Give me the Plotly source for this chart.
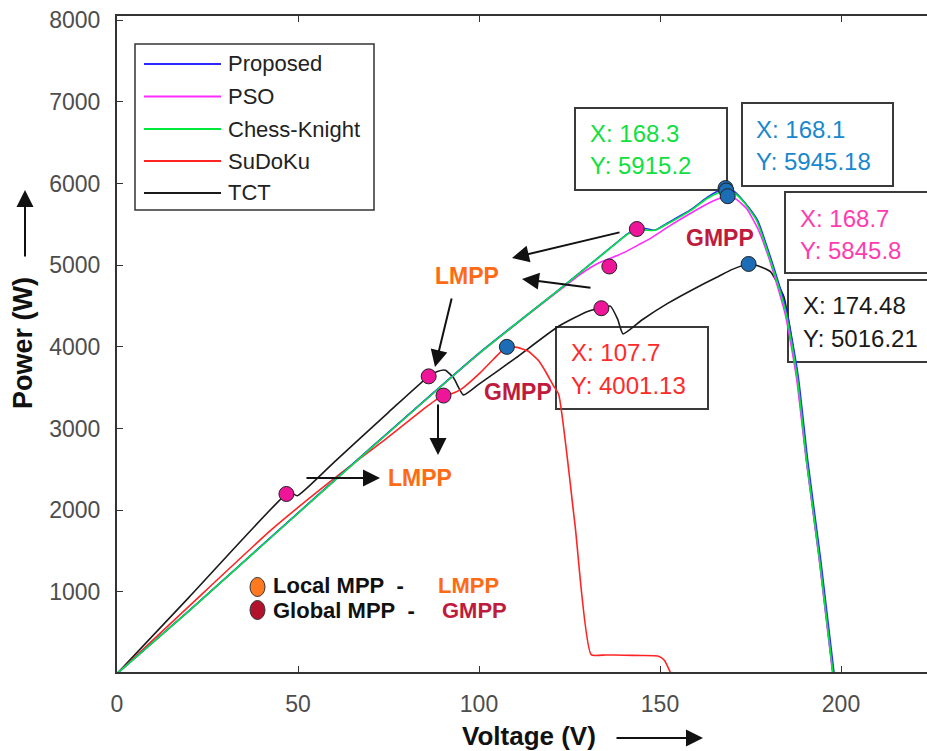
import plotly.graph_objects as go

# ---------------- data ----------------
# P-V characteristics (V in volts, P in watts)
tct_v = [0, 20, 46.8, 48.3, 49.8, 60, 75, 86.1, 88.5, 90.7, 93, 95.7, 100, 110, 121.9, 130, 133.8,
         136.3, 138.3, 139.8, 145, 152, 160.4, 166, 170, 174.48, 177, 180.5, 184.2, 186.1, 187.9,
         190.5, 194.1, 197.8]
tct_p = [0, 940, 2200, 2212, 2178, 2590, 3200, 3640, 3700, 3716, 3620, 3413, 3545, 3860, 4250, 4435,
         4474, 4500, 4340, 4160, 4330, 4530, 4735, 4860, 4950, 5016.21, 4995, 4922, 4616, 4171, 3635,
         2610, 1390, 0]

sdk_v = [0, 20, 42.6, 60, 75, 85, 88.5, 90.2, 92, 95, 100, 104, 107.7, 110.5, 113.5, 116.5, 118.5,
         120.5, 122, 126.5, 131, 135, 140, 145, 149.4, 151.2, 153]
sdk_p = [0, 830, 1760, 2390, 2900, 3250, 3365, 3405, 3420, 3480, 3670, 3850, 4001.13, 3995, 3950,
         3830, 3690, 3530, 3420, 1830, 232, 229, 226, 222, 215, 165, 0]

pso_v = [0, 20, 45, 70, 100, 118, 123, 128, 132.9, 136.5, 140.3, 144, 147.5, 153, 158, 163, 166.5,
         168.7, 171, 174, 177, 180.3, 184.6, 187.7, 190.4, 194.0, 197.7]
pso_p = [0, 772, 1765, 2755, 3915, 4548, 4720, 4890, 5025, 5090, 5161, 5250, 5332, 5492, 5625, 5750,
         5820, 5845.8, 5810, 5690, 5450, 5060, 4400, 3625, 2610, 1390, 0]

prop_v = [0, 20, 45, 70, 100, 122, 136.5, 141, 143.6, 146, 148.6, 152, 158.5, 163, 166, 168.1, 170.5,
          173, 176.9, 180.5, 185.1, 188.2, 190.8, 194.4, 198.1]
prop_p = [0, 775, 1770, 2760, 3925, 4700, 5222, 5385, 5444, 5450, 5430, 5515, 5680, 5830, 5910,
          5945.18, 5905, 5790, 5555, 5100, 4415, 3635, 2610, 1390, 0]

ck_v = [0, 20, 45, 70, 100, 122, 136.5, 141, 143.6, 146, 148.6, 152, 158.5, 163, 166, 168.3, 170.5,
        173, 176.6, 180.2, 184.8, 187.9, 190.5, 194.1, 197.8]
ck_p = [0, 772, 1765, 2755, 3920, 4695, 5218, 5378, 5432, 5430, 5428, 5505, 5672, 5818, 5885,
        5915.2, 5885, 5780, 5555, 5100, 4415, 3635, 2610, 1390, 0]

series_names = ["Proposed", "PSO", "Chess-Knight", "SuDoKu", "TCT"]

# local maxima (LMPP) and global maxima (GMPP)
lmpp_v = [46.8, 86.1, 133.8, 90.2, 136.0, 143.6]
lmpp_p = [2200, 3640, 4474, 3405, 4985, 5444]
gmpp_v = [107.7, 168.1, 168.3, 168.7, 174.48]
gmpp_p = [4001.13, 5945.18, 5915.2, 5845.8, 5016.21]

x_ticks = [0, 50, 100, 150, 200]
y_ticks = [1000, 2000, 3000, 4000, 5000, 6000, 7000, 8000]

# ---------------- layout helpers ----------------
W, H = 927, 751
ML, MR, MT, MB = 117, 0, 16, 79
PW, PH = W - ML - MR, H - MT - MB
FONT = "Liberation Sans, Arial, Helvetica, sans-serif"


def pxx(x):
    return (x - ML) / PW


def pxy(y):
    return (H - MB - y) / PH


COL = {
    "Proposed": "#2a2aff",
    "PSO": "#ff2bff",
    "Chess-Knight": "#00e83c",
    "SuDoKu": "#ff2424",
    "TCT": "#1a1a1a",
}

fig = go.Figure()

curves = [
    ("TCT", tct_v, tct_p),
    ("SuDoKu", sdk_v, sdk_p),
    ("PSO", pso_v, pso_p),
    ("Proposed", prop_v, prop_p),
    ("Chess-Knight", ck_v, ck_p),
]
for name, v, p in curves:
    fig.add_trace(go.Scatter(
        x=v, y=p, mode="lines", name=name, showlegend=False,
        line=dict(color=COL[name], width=1.6, shape="spline", smoothing=0.5),
    ))

fig.add_trace(go.Scatter(
    x=lmpp_v, y=lmpp_p, mode="markers", showlegend=False,
    marker=dict(size=15, color="#ee1599", line=dict(color="#222", width=1)),
))
fig.add_trace(go.Scatter(
    x=gmpp_v, y=gmpp_p, mode="markers", showlegend=False,
    marker=dict(size=15, color="#1c6db5", line=dict(color="#222", width=1)),
))

shapes = []
annotations = []

# ---- legend box ----
shapes.append(dict(type="rect", xref="paper", yref="paper",
                   x0=pxx(135), x1=pxx(374), y0=pxy(210), y1=pxy(44),
                   line=dict(color="#333", width=1.5), fillcolor="white", layer="above"))
row_y = [64, 96.5, 129, 161, 193]
for name, ry in zip(series_names, row_y):
    shapes.append(dict(type="line", xref="paper", yref="paper",
                       x0=pxx(144), x1=pxx(221), y0=pxy(ry), y1=pxy(ry),
                       line=dict(color=COL[name], width=2), layer="above"))
    annotations.append(dict(xref="paper", yref="paper", x=pxx(226), y=pxy(ry),
                            xanchor="left", yanchor="middle", showarrow=False, text=name,
                            font=dict(family=FONT, size=22, color="#222")))

# ---- data-tip boxes ----
tips = [
    # (index into gmpp, text colour, box l,t,r,b, text x, line1 y, line2 y)
    (2, "#10e040", (575, 108, 727, 190), 588, 133, 165),
    (1, "#1a88cc", (742, 103, 893, 186), 754, 129, 162),
    (3, "#ff3caf", (785, 192, 945, 273), 798, 218, 250),
    (4, "#1a1a1a", (788, 280, 945, 362), 801, 306, 338),
    (0, "#ff2a2a", (556, 327, 708, 409), 569, 352, 385),
]
for idx, tcol, (bl, bt, br, bb), tx, y1, y2 in tips:
    shapes.append(dict(type="rect", xref="paper", yref="paper",
                       x0=pxx(bl), x1=pxx(br), y0=pxy(bb), y1=pxy(bt),
                       line=dict(color="#3a3a3a", width=2), fillcolor="white", layer="below"))
    for ty, txt in ((y1, f"X: {gmpp_v[idx]:g}"), (y2, f"Y: {gmpp_p[idx]:g}")):
        annotations.append(dict(xref="paper", yref="paper", x=pxx(tx), y=pxy(ty),
                                xanchor="left", yanchor="middle", showarrow=False, text=txt,
                                font=dict(family=FONT, size=24, color=tcol)))

# ---- LMPP / GMPP labels ----
ORANGE = "#ff6a14"
CRIMSON = "#c01a3c"
for cx, cy, txt, c in [(720, 238, "GMPP", CRIMSON), (518, 392, "GMPP", CRIMSON),
                       (467, 276, "LMPP", ORANGE), (420, 478, "LMPP", ORANGE)]:
    annotations.append(dict(xref="paper", yref="paper", x=pxx(cx), y=pxy(cy),
                            xanchor="center", yanchor="middle", showarrow=False,
                            text=f"<b>{txt}</b>", font=dict(family=FONT, size=23, color=c)))

# ---- arrows (head position, tail offset in px) ----
for hx, hy, ax, ay in [(512, 258, 109, -26), (522, 279, 70, 9), (435, 367, 17, -70),
                       (438, 455, 0, -52), (380, 478, -75, 0),
                       (25, 190, 0, 68), (703, 738, -88, 0)]:
    annotations.append(dict(xref="paper", yref="paper", x=pxx(hx), y=pxy(hy),
                            ax=ax, ay=ay, text="", showarrow=True,
                            arrowhead=2, arrowsize=1.7, arrowwidth=2, arrowcolor="#111",
                            standoff=0, startstandoff=0))

# ---- MPP key ----
for cy, fillc in [(587, "#ff7a1e"), (610, "#b3122f")]:
    shapes.append(dict(type="circle", xref="paper", yref="paper",
                       x0=pxx(250), x1=pxx(265), y0=pxy(cy + 9.5), y1=pxy(cy - 9.5),
                       line=dict(color="#333", width=1), fillcolor=fillc, layer="above"))
NB = "\u00a0"
for cy, t1, x2, t2, c2 in [(585, f"Local MPP{NB} -", 436, "LMPP", ORANGE),
                           (610, f"Global MPP{NB} -", 440, "GMPP", CRIMSON)]:
    annotations.append(dict(xref="paper", yref="paper", x=pxx(271), y=pxy(cy),
                            xanchor="left", yanchor="middle", showarrow=False,
                            text=f"<b>{t1}</b>", font=dict(family=FONT, size=22, color="#111")))
    annotations.append(dict(xref="paper", yref="paper", x=pxx(x2), y=pxy(cy),
                            xanchor="left", yanchor="middle", showarrow=False,
                            text=f"<b>{t2}</b>", font=dict(family=FONT, size=22, color=c2)))

# ---- axis titles ----
annotations.append(dict(xref="paper", yref="paper", x=pxx(529), y=pxy(736),
                        xanchor="center", yanchor="middle", showarrow=False,
                        text="<b>Voltage (V)</b>", font=dict(family=FONT, size=26, color="#111")))
annotations.append(dict(xref="paper", yref="paper", x=pxx(23), y=pxy(343),
                        xanchor="center", yanchor="middle", showarrow=False, textangle=-90,
                        text="<b>Power (W)</b>", font=dict(family=FONT, size=27, color="#111")))

fig.update_layout(
    width=W, height=H,
    margin=dict(l=ML, r=MR, t=MT, b=MB),
    paper_bgcolor="white", plot_bgcolor="white",
    showlegend=False,
    shapes=shapes, annotations=annotations,
    xaxis=dict(range=[0, PW / 3.62], tickvals=x_ticks, ticks="inside", ticklen=6,
               tickcolor="#333", showline=True, linecolor="#333", linewidth=2,
               mirror="ticks", showgrid=False, zeroline=False, ticklabelstandoff=10,
               tickfont=dict(family=FONT, size=23, color="#4d4d4d")),
    yaxis=dict(range=[20, 20 + PH / 0.08167], tickvals=y_ticks, ticks="inside", ticklen=6,
               tickcolor="#333", showline=True, linecolor="#333", linewidth=2,
               mirror=False, showgrid=False, zeroline=False, ticklabelstandoff=10,
               tickfont=dict(family=FONT, size=23, color="#4d4d4d")),
)

fig.write_html("out.html")
